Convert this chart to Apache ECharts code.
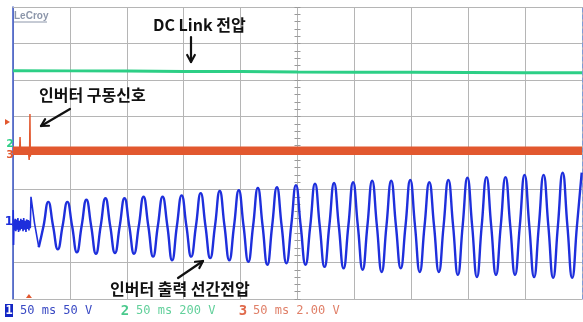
<!DOCTYPE html>
<html>
<head>
<meta charset="utf-8">
<script src="https://cdn.jsdelivr.net/npm/echarts@6/dist/echarts.min.js"></script>
<style>
  html, body { margin: 0; padding: 0; background: #ffffff; }
  #chart { width: 583px; height: 322px; }
</style>
</head>
<body>
<div id="chart"></div>
<script>
// ---- Acquisition data -------------------------------------------------
// Time base: 50 ms per division, 10 divisions
const timeTicksMs = [0, 50, 100, 150, 200, 250, 300, 350, 400, 450, 500];
const channelSettings = ['50 ms 50 V', '50 ms 200 V', '50 ms 2.00 V'];

// Channel 2: DC link voltage (V), one reading per division
const dcLinkV = [401, 400, 399, 397, 396, 394, 393, 392, 391, 390, 390];

// Channel 3: inverter gate drive signal (V)
const gateBaseV = [0.12, 0.12, 0.12, 0.12, 0.12, 0.12, 0.12, 0.12, 0.12, 0.12, 0.12];
const gatePulse = [
  [0, 0.12], [5.8, 0.12], [6.2, 0.88], [6.6, 0.1], [13.6, 0.1],
  [14.2, -0.38], [14.6, 0.1], [14.9, 2.14], [15.2, -0.2], [15.7, 0.12], [20, 0.12]
];
const gateTriggerV = 1.7;
const triggerMs = 14.0;

// Channel 1: inverter output line-to-line voltage (V)
// before start-up: noise around 0 V, then the first switching edge
const lineLead = [
  [0, 0], [0.2, 22], [0.5, -26], [0.9, 8], [1.4, -6], [1.9, 10], [2.5, -7],
  [3.1, 9], [3.7, -5], [4.3, 11], [4.9, -8], [5.6, 7], [6.2, -6], [6.9, 10],
  [7.5, -4], [8.1, 8], [8.8, -7], [9.4, 11], [10.1, -5], [10.7, 7], [11.4, -8],
  [12.0, 9], [12.7, -4], [13.3, 8], [14.0, -6], [14.6, 7], [15.2, -3],
  [15.8, 40], [18.9, 4], [22.65, -29]
];
// 60 Hz output, sampled every quarter period: trough, crossing, peak, crossing
const lineStartMs = 22.65;
const quarterPeriodMs = 4.185;
const lineV = [
  -29, 0, 33, 0,
  -32, 0, 33, 0,
  -36, 0, 36, 0,
  -38, 0, 38, 0,
  -37, 0, 38, 0,
  -38, 0, 40, 0,
  -42, 0, 40, 0,
  -47, 0, 42, 0,
  -42, 0, 45, 0,
  -44, 0, 48, 0,
  -47, 0, 49, 0,
  -49, 0, 52, 0,
  -53, 0, 53, 0,
  -51, 0, 56, 0,
  -53, 0, 58, 0,
  -56, 0, 59, 0,
  -58, 0, 60, 0,
  -60, 0, 62, 0,
  -63, 0, 62, 0,
  -58, 0, 63, 0,
  -63, 0, 60, 0,
  -63, 0, 63, 0,
  -67, 0, 66, 0,
  -70, 0, 67, 0,
  -67, 0, 67, 0,
  -67, 0, 70, 0,
  -70, 0, 70, 0,
  -71, 0, 73, 0,
  -71, 0, 73
];

// ---- Styling ----------------------------------------------------------
const C1 = '#1e2fdc';   // channel 1 trace
const C2 = '#2dcf86';   // channel 2 trace
const C3 = '#e2582f';   // channel 3 trace
const GRID_LINE = '#b5b5b5';
const ANNOT_FONT = 'bold 16px "Noto Sans CJK KR", "Noto Sans", sans-serif';
const MONO_FONT = '12px "DejaVu Sans Mono", monospace';

const G = { left: 13, right: 1, top: 7, bottom: 23 };

const dcLinkData = timeTicksMs.map((t, i) => [t, dcLinkV[i]]);
const gateBaseData = timeTicksMs.map((t, i) => [t, gateBaseV[i]]);
const lineData = lineV.map((v, i) => [lineStartMs + i * quarterPeriodMs, v]);

const chart = echarts.init(document.getElementById('chart'), null, { renderer: 'canvas' });

const hidden = { show: false };
function traceAxis(min, max) {
  return { type: 'value', min, max, show: false, splitLine: hidden };
}

const option = {
  animation: false,
  backgroundColor: '#ffffff',
  grid: { left: G.left, right: G.right, top: G.top, bottom: G.bottom, containLabel: false },
  xAxis: [
    { // time axis with the vertical division lines
      type: 'value', min: 0, max: 500, interval: 50, position: 'bottom',
      axisLine: { show: true, onZero: false, lineStyle: { color: GRID_LINE } },
      axisTick: hidden, axisLabel: hidden,
      splitLine: { show: true, lineStyle: { color: GRID_LINE, width: 1 } }
    },
    { // top frame
      type: 'value', min: 0, max: 500, position: 'top',
      axisLine: { show: true, onZero: false, lineStyle: { color: GRID_LINE } },
      axisTick: hidden, axisLabel: hidden, splitLine: hidden
    }
  ],
  yAxis: [
    { // vertical divisions
      type: 'value', min: -4, max: 4, interval: 1, position: 'left',
      axisLine: { show: true, onZero: false, lineStyle: { color: '#3a56c8', width: 1.5 } },
      axisTick: hidden, axisLabel: hidden,
      splitLine: { show: true, lineStyle: { color: GRID_LINE, width: 1 } }
    },
    traceAxis(-100, 300),   // channel 1: 50 V/div, ground 2 div below centre
    traceAxis(-850, 750),   // channel 2: 200 V/div, ground 0.25 div above centre
    traceAxis(-8, 8),       // channel 3: 2 V/div, ground at centre
    { // right frame
      type: 'value', min: -4, max: 4, position: 'right',
      axisLine: { show: true, onZero: false, lineStyle: { color: '#7f9bd6', type: [4, 3] } },
      axisTick: hidden, axisLabel: hidden, splitLine: hidden
    },
    { // centre-line minor ticks (left half)
      type: 'value', min: -4, max: 4, interval: 0.2, position: 'left', offset: -284.5,
      axisLine: { show: false, onZero: false },
      axisTick: { show: true, inside: false, length: 3, lineStyle: { color: '#999' } },
      axisLabel: hidden, splitLine: hidden
    },
    { // centre-line minor ticks (right half)
      type: 'value', min: -4, max: 4, interval: 0.2, position: 'left', offset: -284.5,
      axisLine: { show: false, onZero: false },
      axisTick: { show: true, inside: true, length: 3, lineStyle: { color: '#999' } },
      axisLabel: hidden, splitLine: hidden
    }
  ],
  series: [
    {
      name: 'DC Link', type: 'line', xAxisIndex: 0, yAxisIndex: 2,
      data: dcLinkData, showSymbol: false, silent: true,
      lineStyle: { color: C2, width: 3 }
    },
    {
      name: 'Gate', type: 'line', xAxisIndex: 0, yAxisIndex: 3,
      data: gateBaseData, showSymbol: false, silent: true,
      lineStyle: { color: C3, width: 8.5 }
    },
    {
      name: 'Gate pulse', type: 'line', xAxisIndex: 0, yAxisIndex: 3,
      data: gatePulse, showSymbol: false, silent: true,
      lineStyle: { color: C3, width: 1.5 }
    },
    {
      name: 'Vll lead', type: 'line', xAxisIndex: 0, yAxisIndex: 1,
      data: lineLead, showSymbol: false, silent: true,
      lineStyle: { color: C1, width: 1.6 }
    },
    {
      name: 'Vll', type: 'line', xAxisIndex: 0, yAxisIndex: 1,
      data: lineData, showSymbol: false, silent: true, smooth: 0.5,
      lineStyle: { color: C1, width: 2.4 }
    }
  ]
};

chart.setOption(option);

// ---- Annotations and scope read-outs ----------------------------------
function arrow(x1, y1, x2, y2) {
  const ang = Math.atan2(y2 - y1, x2 - x1);
  const L = 8, a = 0.5;
  const p1 = [x2 - L * Math.cos(ang - a), y2 - L * Math.sin(ang - a)];
  const p2 = [x2 - L * Math.cos(ang + a), y2 - L * Math.sin(ang + a)];
  const st = { stroke: '#111', lineWidth: 2.2, fill: null, lineCap: 'round', lineJoin: 'round' };
  return [
    { type: 'line', shape: { x1, y1, x2, y2 }, style: st, z: 100 },
    { type: 'polyline', shape: { points: [p1, [x2, y2], p2] }, style: st, z: 100 }
  ];
}
function label(text, x, y, font, fill, align) {
  return {
    type: 'text', z: 100,
    style: { text, x, y, font, fill, textAlign: align || 'left', textVerticalAlign: 'middle' }
  };
}

const px = (t, v, yAxisIndex) => chart.convertToPixel({ xAxisIndex: 0, yAxisIndex }, [t, v]);
const ch1Zero = px(0, 0, 1)[1];
const ch2Zero = px(0, 0, 2)[1];
const ch3Zero = px(0, 0, 3)[1];
const trigLevel = px(0, gateTriggerV, 3)[1];
const trigX = px(triggerMs, 0, 3)[0];
const bottomY = 322 - G.bottom;

const elements = [
  // brand mark
  label('LeCroy', 14, 16, 'bold 10px "Liberation Sans", sans-serif', '#8c96aa'),
  { type: 'line', shape: { x1: 14, y1: 22, x2: 47, y2: 22 }, style: { stroke: '#8c96aa', lineWidth: 1 } },

  // channel ground / trigger markers on the left edge
  { type: 'polygon', shape: { points: [[5, trigLevel - 3], [10, trigLevel], [5, trigLevel + 3]] }, style: { fill: C3 } },
  label('2', 10, ch2Zero, 'bold 11px "DejaVu Sans", sans-serif', C2, 'center'),
  label('3', 10, ch3Zero + 2, 'bold 11px "DejaVu Sans", sans-serif', C3, 'center'),
  label('1', 9, ch1Zero - 4, 'bold 12px "DejaVu Sans", sans-serif', C1, 'center'),

  // trigger position marker
  { type: 'polygon', shape: { points: [[trigX - 3, bottomY - 1], [trigX, bottomY - 5], [trigX + 3, bottomY - 1]] }, style: { fill: C3 } },

  // annotations
  label('DC Link 전압', 153, 25, ANNOT_FONT, '#111'),
  ...arrow(191, 37, 191, 62),
  label('인버터 구동신호', 39, 95, ANNOT_FONT, '#111'),
  ...arrow(70, 109, 41, 126),
  label('인버터 출력 선간전압', 110, 289, ANNOT_FONT, '#111'),
  ...arrow(178, 278, 203, 261),

  // channel read-outs
  { type: 'rect', shape: { x: 5, y: 304, width: 8, height: 13 }, style: { fill: '#1326c4' } },
  label('1', 9, 311, 'bold 12px "DejaVu Sans Mono", monospace', '#ffffff', 'center'),
  label(channelSettings[0], 20, 311, MONO_FONT, '#3a4ac4'),
  label('2', 125, 311, 'bold 14px "DejaVu Sans Mono", monospace', '#49c98c', 'center'),
  label(channelSettings[1], 136, 311, MONO_FONT, '#62d09b'),
  label('3', 243, 311, 'bold 14px "DejaVu Sans Mono", monospace', '#e06a4c', 'center'),
  label(channelSettings[2], 253, 311, MONO_FONT, '#e08069')
];

chart.setOption({ graphic: { elements } });
</script>
</body>
</html>
